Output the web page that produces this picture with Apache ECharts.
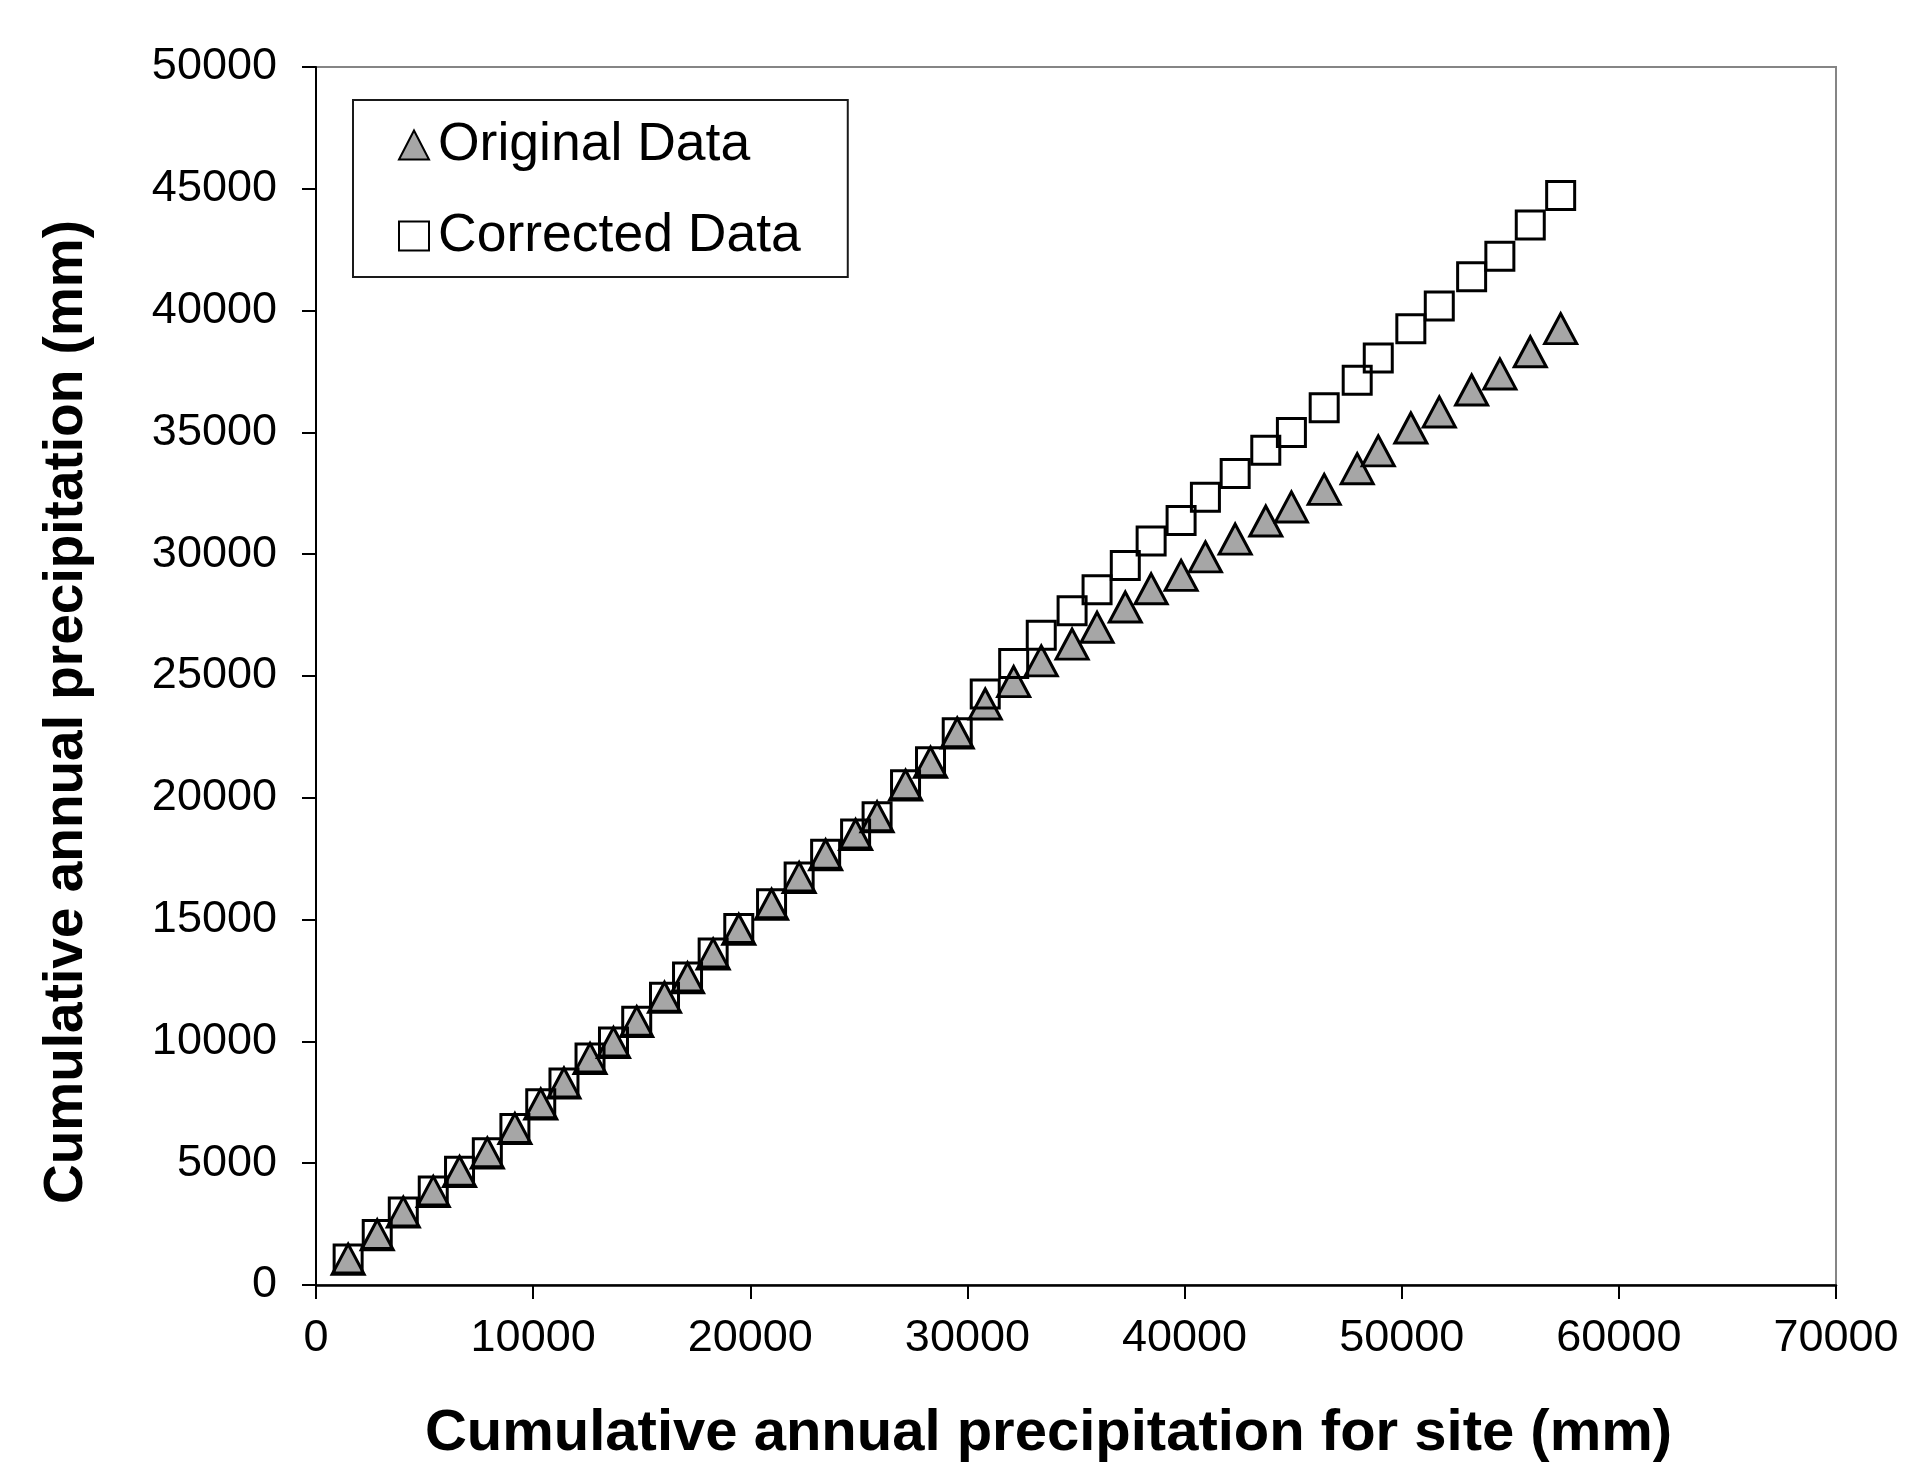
<!DOCTYPE html>
<html>
<head>
<meta charset="utf-8">
<script src="https://cdn.jsdelivr.net/npm/echarts@6/dist/echarts.min.js"></script>
<style>
html,body{margin:0;padding:0;background:#fff;}
#chart{width:1918px;height:1474px;}
</style>
</head>
<body>
<div id="chart"></div>
<script>
// Cumulative annual precipitation for site (x, mm)
const xSite = [1480, 2820, 4020, 5400, 6610, 7890, 9160, 10350, 11420, 12620,
  13700, 14770, 16050, 17110, 18290, 19470, 20980, 22250, 23470, 24850,
  25840, 27150, 28300, 29530, 30820, 32130, 33400, 34820, 35970, 37270,
  38460, 39840, 40960, 42330, 43740, 44920, 46430, 47950, 48920, 50420,
  51730, 53220, 54520, 55920, 57320];
// Original Data (y, mm)
const originalData = [1060, 2060, 2990, 3840, 4660, 5420, 6420, 7430, 8290, 9300,
  9950, 10810, 11810, 12610, 13590, 14600, 15630, 16730, 17660, 18490,
  19220, 20520, 21460, 22660, 23850, 24770, 25620, 26310, 27000, 27830,
  28580, 29130, 29890, 30620, 31360, 31940, 32660, 33510, 34240, 35180,
  35840, 36740, 37400, 38310, 39260];
// Corrected Data (y, mm)
const correctedData = [1070, 2070, 3000, 3860, 4670, 5430, 6420, 7440, 8290, 9320,
  9980, 10830, 11810, 12640, 13630, 14630, 15650, 16750, 17680, 18510,
  19220, 20540, 21480, 22670, 24260, 25510, 26670, 27680, 28540, 29540,
  30540, 31380, 32340, 33310, 34270, 35000, 36010, 37140, 38050, 39260,
  40190, 41390, 42230, 43510, 44720];
const seriesNames = ['Original Data', 'Corrected Data'];
const xAxisRange = [0, 70000, 10000];
const yAxisRange = [0, 50000, 5000];
const xTitle = 'Cumulative annual precipitation for site (mm)';
const yTitle = 'Cumulative annual precipitation (mm)';

const FONT = "'Liberation Sans', Arial, sans-serif";
const zip = (xs, ys) => xs.map((x, i) => [x, ys[i]]);

const chart = echarts.init(document.getElementById('chart'), null, {renderer: 'canvas'});
chart.setOption({
  backgroundColor: '#ffffff',
  animation: false,
  grid: {
    left: 316, top: 67, width: 1520, height: 1218,
    show: true, borderColor: '#858585', borderWidth: 2, backgroundColor: 'transparent'
  },
  legend: {
    left: 353, top: 100,
    orient: 'vertical',
    backgroundColor: '#ffffff',
    borderColor: '#1a1a1a', borderWidth: 2,
    padding: [18, 47, 14, 45],
    itemGap: 37,
    itemWidth: 30, itemHeight: 29,
    textStyle: {fontFamily: FONT, fontSize: 53.5, color: '#000', padding: [0, 0, 0, 4]},
    data: seriesNames
  },
  xAxis: {
    type: 'value',
    min: xAxisRange[0], max: xAxisRange[1], interval: xAxisRange[2],
    name: xTitle,
    nameLocation: 'middle',
    nameGap: 120,
    nameTextStyle: {fontFamily: FONT, fontSize: 58, fontWeight: 'bold', color: '#000', padding: [0, 55, 0, 0]},
    axisLine: {show: true, onZero: false, lineStyle: {color: '#000', width: 2.5}},
    axisTick: {show: true, inside: false, length: 14, lineStyle: {color: '#000', width: 2}},
    axisLabel: {fontFamily: FONT, fontSize: 45, color: '#000', margin: 31, formatter: v => String(v)},
    splitLine: {show: false}
  },
  yAxis: {
    type: 'value',
    min: yAxisRange[0], max: yAxisRange[1], interval: yAxisRange[2],
    name: yTitle,
    nameLocation: 'middle',
    nameGap: 222,
    nameTextStyle: {fontFamily: FONT, fontSize: 55, fontWeight: 'bold', color: '#000', padding: [0, 72, 0, 0]},
    axisLine: {show: true, onZero: false, lineStyle: {color: '#000', width: 2}},
    axisTick: {show: true, inside: false, length: 14, lineStyle: {color: '#000', width: 2}},
    axisLabel: {fontFamily: FONT, fontSize: 45, color: '#000', margin: 39, formatter: v => String(v)},
    splitLine: {show: false}
  },
  series: [
    {
      name: seriesNames[0],
      type: 'scatter',
      symbol: 'triangle',
      symbolSize: [32, 30],
      itemStyle: {color: '#a6a6a6', borderColor: '#000', borderWidth: 3, opacity: 1},
      data: zip(xSite, originalData),
      z: 2
    },
    {
      name: seriesNames[1],
      type: 'scatter',
      symbol: 'rect',
      symbolSize: 28,
      itemStyle: {color: 'rgba(255,255,255,0)', borderColor: '#000', borderWidth: 3, opacity: 1},
      data: zip(xSite, correctedData),
      z: 3
    }
  ]
});
</script>
</body>
</html>
